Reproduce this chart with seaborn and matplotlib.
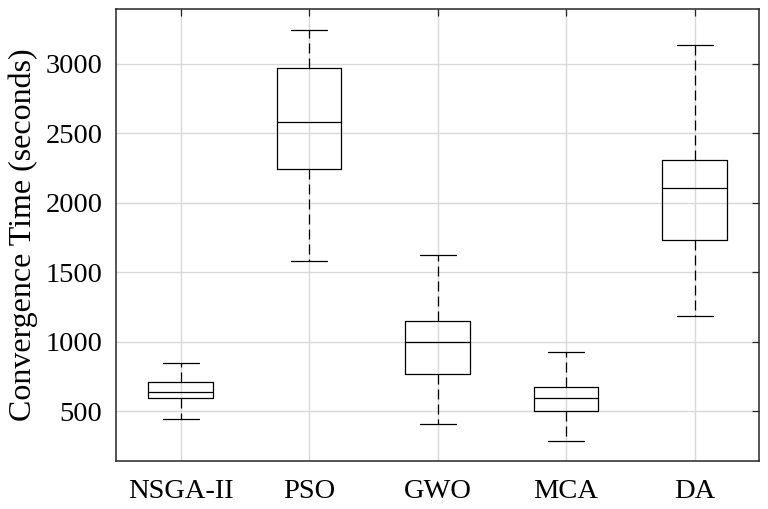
import numpy as np
import pandas as pd
import seaborn as sns
import matplotlib
matplotlib.use("Agg")
import matplotlib.pyplot as plt

# five-number summaries (seconds)
algorithms = ["NSGA-II", "PSO", "GWO", "MCA", "DA"]
whisker_low = [447, 1579, 409, 289, 1190]
q1 = [594, 2243, 769, 500, 1733]
median = [642, 2580, 1000, 594, 2106]
q3 = [714, 2967, 1151, 673, 2306]
whisker_high = [851, 3241, 1623, 925, 3135]

rows = []
for i, name in enumerate(algorithms):
    for v in (whisker_low[i], q1[i], median[i], q3[i], whisker_high[i]):
        rows.append({"Algorithm": name, "Time": v})
df = pd.DataFrame(rows)

sns.set_style("white")
plt.rcParams["font.family"] = ["Liberation Serif", "DejaVu Serif"]
plt.rcParams["text.color"] = "black"
plt.rcParams["axes.labelcolor"] = "black"

fig = plt.figure(figsize=(7.68, 5.09), dpi=100)
ax = fig.add_axes([0.1514, 0.0943, 0.988 - 0.1514, 0.9817 - 0.0943])

sns.boxplot(
    data=df, x="Algorithm", y="Time", order=algorithms, ax=ax,
    whis=(0, 100), width=0.5, fill=False, linecolor="black", linewidth=0.9,
    whiskerprops=dict(linestyle=(0, (8, 4)), color="black", linewidth=0.9),
    capprops=dict(color="black", linewidth=0.9),
    medianprops=dict(color="black", linewidth=0.9),
    boxprops=dict(color="black", linewidth=0.9),
    capwidths=0.28,
)

ax.set_xlim(-0.5, 4.5)
ax.set_ylim(144, 3392)
ax.set_yticks([500, 1000, 1500, 2000, 2500, 3000])

ax.grid(True, color="#d9d9d9", linewidth=1.0)
ax.set_axisbelow(True)
for s in ax.spines.values():
    s.set_color("#262626")
    s.set_linewidth(1.1)
    s.set_visible(True)

ax.tick_params(axis="both", direction="in", length=5, width=0.9, colors="#262626",
               top=True, right=True, labelsize=20.5, labelcolor="black")
ax.tick_params(axis="x", pad=13)
ax.tick_params(axis="y", pad=10)

ax.set_xlabel("")
ax.set_ylabel("Convergence Time (seconds)", fontsize=23, labelpad=5)

fig.savefig("out.png", dpi=100)
